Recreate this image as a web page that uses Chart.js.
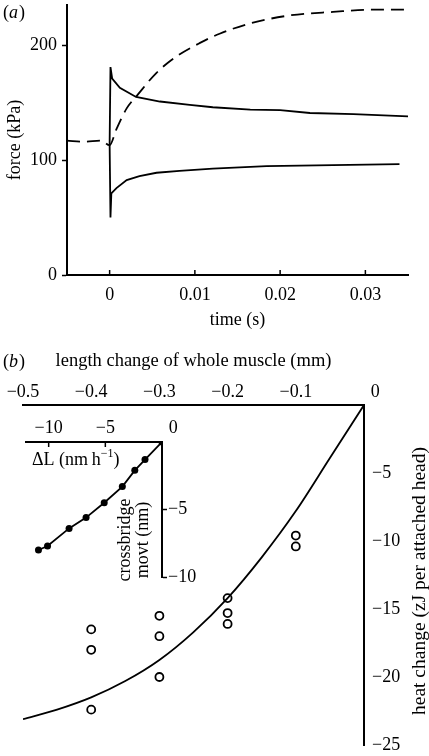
<!DOCTYPE html>
<html>
<head>
<meta charset="utf-8">
<script src="https://cdn.jsdelivr.net/npm/chart.js@4"></script>
<style>
  html, body { margin: 0; padding: 0; background: #fff; }
  #wrap { position: relative; width: 429px; height: 756px; }
  canvas { position: absolute; left: 0; }
</style>
</head>
<body>
<div id="wrap">
  <canvas id="chartA" width="429" height="340" style="top:0"></canvas>
  <canvas id="chartB" width="429" height="416" style="top:340px"></canvas>
  <canvas id="chartC" width="230" height="200" style="top:400px"></canvas>
</div>
<script>
/*
  Two-panel figure: (a) force transients, (b) heat change vs length change
  with an inset of crossbridge movement.
*/

const FONT = "'Liberation Serif', 'Times New Roman', serif";
Chart.defaults.font.family = FONT;
Chart.defaults.font.size = 18;
Chart.defaults.color = '#000';

// --- Panel (a) data ---
const timeTicks = [0, 0.01, 0.02, 0.03];
const forceTicks = [0, 100, 200];

const timeDashed  = [-0.005, -0.003, -0.001, 0, 0.0008, 0.002, 0.0033, 0.0055, 0.0078, 0.0106, 0.0129, 0.0165, 0.0212, 0.0262, 0.031, 0.035];
const forceDashed = [117, 116, 117, 113, 127, 145, 157, 176, 190, 202, 210, 219, 226, 229, 231, 231];

const timeUpper  = [0, 0.0001, 0.0003, 0.0012, 0.0031, 0.0059, 0.0094, 0.0121, 0.0165, 0.02, 0.0235, 0.0286, 0.035];
const forceUpper = [114, 181, 171, 163, 155, 151, 148, 146, 144, 143.5, 141, 140, 138];

const timeLower  = [0, 0.0001, 0.0002, 0.0008, 0.002, 0.0035, 0.0055, 0.0082, 0.0121, 0.0184, 0.0262, 0.034];
const forceLower = [114, 50, 71, 75.6, 82.6, 86, 89, 90.7, 92.5, 94.8, 95.6, 96.5];

// --- Panel (b) data ---
const lengthTicks = [-0.5, -0.4, -0.3, -0.2, -0.1, 0];
const heatTicks = [-5, -10, -15, -20, -25];

const lengthFit = [-0.5, -0.45, -0.4, -0.35, -0.3, -0.25, -0.2, -0.15, -0.1, -0.05, 0];
const heatFit   = [-23.1, -22.4, -21.5, -20.3, -18.75, -16.7, -14.2, -11.2, -7.8, -3.9, 0];

const lengthObs = [-0.4, -0.4, -0.4, -0.3, -0.3, -0.3, -0.2, -0.2, -0.2, -0.1, -0.1];
const heatObs   = [-16.5, -18.0, -22.4, -15.5, -17.0, -20.0, -14.2, -15.3, -16.1, -9.6, -10.4];

// --- Inset data ---
const dLTicks = [-10, -5, 0];
const movtTicks = [-5, -10];
const dLInset   = [0, -1.5, -2.4, -3.5, -5.1, -6.7, -8.2, -10.1, -10.9];
const movtInset = [0, -1.3, -2.1, -3.3, -4.5, -5.6, -6.4, -7.7, -8.0];

// --- helpers ---
const pts = (xs, ys) => xs.map((x, i) => ({ x: x, y: ys[i] }));
const minus = v => v < 0 ? '\u2212' + String(-v) : String(v);
const setTicks = list => s => { s.ticks = list.map(v => ({ value: v })); };
const axisLine = { display: true, color: '#000', width: 2 };
const noGrid = { display: false, drawTicks: false };

// fix a scale's thickness and drop the label overhang padding
function fixSize(key, size) {
  return s => {
    s[key] = size;
    s.paddingTop = 0; s.paddingBottom = 0; s.paddingLeft = 0; s.paddingRight = 0;
  };
}

function panelLabel(ctx, letter, x, y) {
  ctx.save();
  ctx.fillStyle = '#000';
  ctx.textBaseline = 'middle';
  ctx.textAlign = 'left';
  ctx.font = '18px ' + FONT;
  ctx.fillText('(', x, y);
  let w = ctx.measureText('(').width;
  ctx.font = 'italic 18px ' + FONT;
  ctx.fillText(letter, x + w, y);
  w += ctx.measureText(letter).width + 1;
  ctx.font = '18px ' + FONT;
  ctx.fillText(')', x + w, y);
  ctx.restore();
}

function rotatedText(ctx, text, x, y, size) {
  ctx.save();
  ctx.translate(x, y);
  ctx.rotate(-Math.PI / 2);
  ctx.fillStyle = '#000';
  ctx.font = size + 'px ' + FONT;
  ctx.textAlign = 'center';
  ctx.textBaseline = 'middle';
  ctx.fillText(text, 0, 0);
  ctx.restore();
}

const common = {
  responsive: false,
  animation: false,
  events: [],
  plugins: { legend: { display: false }, tooltip: { enabled: false } }
};

// --- Chart (a) ---
new Chart(document.getElementById('chartA'), {
  type: 'line',
  data: {
    datasets: [
      { data: pts(timeDashed, forceDashed), borderColor: '#000', borderWidth: 1.8, borderDash: [13, 7],
        pointRadius: 0, cubicInterpolationMode: 'monotone' },
      { data: pts(timeUpper, forceUpper), borderColor: '#000', borderWidth: 1.8, pointRadius: 0, tension: 0 },
      { data: pts(timeLower, forceLower), borderColor: '#000', borderWidth: 1.8, pointRadius: 0, tension: 0 }
    ]
  },
  options: {
    ...common,
    layout: { padding: { top: 5, right: 21, left: 0, bottom: 0 } },
    scales: {
      x: {
        type: 'linear', min: -0.005, max: 0.035,
        afterBuildTicks: setTicks(timeTicks),
        afterFit: fixSize('height', 65),
        ticks: { padding: 9, callback: v => String(v) },
        grid: noGrid, border: axisLine,
        title: { display: true, text: 'time (s)', padding: { top: 0, bottom: 9 } }
      },
      y: {
        type: 'linear', min: 0, max: 235,
        afterBuildTicks: setTicks(forceTicks),
        afterFit: fixSize('width', 67),
        ticks: { padding: 5 },
        grid: { display: true, drawOnChartArea: false, drawTicks: true, tickLength: 5, color: '#000', tickWidth: 1.5 },
        border: axisLine,
        title: { display: true, text: 'force (kPa)', padding: { top: 4, bottom: 0 } }
      }
    }
  },
  plugins: [{
    id: 'panelA',
    afterDraw(chart) {
      const { ctx, scales: { x, y } } = chart;
      ctx.save();
      ctx.strokeStyle = '#000';
      ctx.lineWidth = 1.5;
      timeTicks.forEach(v => {
        const px = x.getPixelForValue(v);
        ctx.beginPath();
        ctx.moveTo(px, y.bottom);
        ctx.lineTo(px, y.bottom - 5);
        ctx.stroke();
      });
      ctx.restore();
      panelLabel(ctx, 'a', 3, 13);
    }
  }]
});

// --- Chart (b) ---
new Chart(document.getElementById('chartB'), {
  type: 'line',
  data: {
    datasets: [
      { data: pts(lengthFit, heatFit), borderColor: '#000', borderWidth: 1.8, pointRadius: 0,
        cubicInterpolationMode: 'monotone' },
      { data: pts(lengthObs, heatObs), showLine: false, pointRadius: 4, pointBorderWidth: 1.8,
        pointBorderColor: '#000', pointBackgroundColor: 'rgba(255,255,255,0)' }
    ]
  },
  options: {
    ...common,
    layout: { padding: { top: 0, right: 0, left: 23, bottom: 11 } },
    scales: {
      x: {
        type: 'linear', position: 'top', min: -0.5, max: 0,
        afterBuildTicks: setTicks(lengthTicks),
        afterFit: fixSize('height', 65),
        ticks: { padding: 2, callback: v => v === 0 ? '     0' : minus(v) },
        grid: noGrid, border: axisLine,
        title: { display: true, text: 'length change of whole muscle (mm)', font: { size: 18.5 },
                 padding: { top: 10, bottom: 0 } }
      },
      y: {
        type: 'linear', position: 'right', min: -25, max: 0,
        afterBuildTicks: setTicks(heatTicks),
        afterFit: fixSize('width', 65),
        ticks: { padding: 8, callback: v => minus(v) },
        grid: noGrid, border: axisLine
      }
    }
  },
  plugins: [{
    id: 'panelB',
    afterDraw(chart) {
      const { ctx } = chart;
      panelLabel(ctx, 'b', 3, 22);
      rotatedText(ctx, 'heat change (zJ per attached head)', 420, 241, 19.5);
    }
  }]
});

// --- Inset ---
new Chart(document.getElementById('chartC'), {
  type: 'line',
  data: {
    datasets: [
      { data: pts(dLInset, movtInset), borderColor: '#000', borderWidth: 1.8, tension: 0,
        pointRadius: 3.5, pointBackgroundColor: '#000', pointBorderColor: '#000', pointBorderWidth: 0 }
    ]
  },
  options: {
    ...common,
    layout: { padding: { top: 0, right: 0, left: 26, bottom: 23 } },
    scales: {
      x: {
        type: 'linear', position: 'top', min: -12, max: 0,
        afterBuildTicks: setTicks(dLTicks),
        afterFit: fixSize('height', 42),
        ticks: { padding: 3, callback: v => v === 0 ? '     0' : minus(v) },
        grid: noGrid, border: axisLine
      },
      y: {
        type: 'linear', position: 'right', min: -10, max: 0,
        afterBuildTicks: setTicks(movtTicks),
        afterFit: fixSize('width', 68),
        ticks: { padding: 1, callback: v => minus(v) },
        grid: { display: true, drawOnChartArea: false, drawTicks: true, tickLength: 5, color: '#000', tickWidth: 1.5 },
        border: axisLine
      }
    }
  },
  plugins: [{
    id: 'inset',
    afterDraw(chart) {
      const { ctx, scales: { x, y } } = chart;
      ctx.save();
      ctx.strokeStyle = '#000';
      ctx.lineWidth = 1.5;
      dLTicks.filter(v => v !== 0).forEach(v => {
        const px = x.getPixelForValue(v);
        ctx.beginPath();
        ctx.moveTo(px, y.top);
        ctx.lineTo(px, y.top + 5);
        ctx.stroke();
      });
      // x-axis label with superscript
      ctx.fillStyle = '#000';
      ctx.textAlign = 'left';
      ctx.textBaseline = 'middle';
      ctx.font = '18px ' + FONT;
      let px = 32;
      const base = 'ΔL (nm\u2009h';
      ctx.fillText(base, px, 60);
      px += ctx.measureText(base).width;
      ctx.font = '12px ' + FONT;
      ctx.fillText('\u22121', px, 54);
      px += ctx.measureText('\u22121').width;
      ctx.font = '18px ' + FONT;
      ctx.fillText(')', px, 60);
      ctx.restore();
      rotatedText(ctx, 'crossbridge', 125, 140, 18);
      rotatedText(ctx, 'movt (nm)', 143, 140, 18);
    }
  }]
});
</script>
</body>
</html>
